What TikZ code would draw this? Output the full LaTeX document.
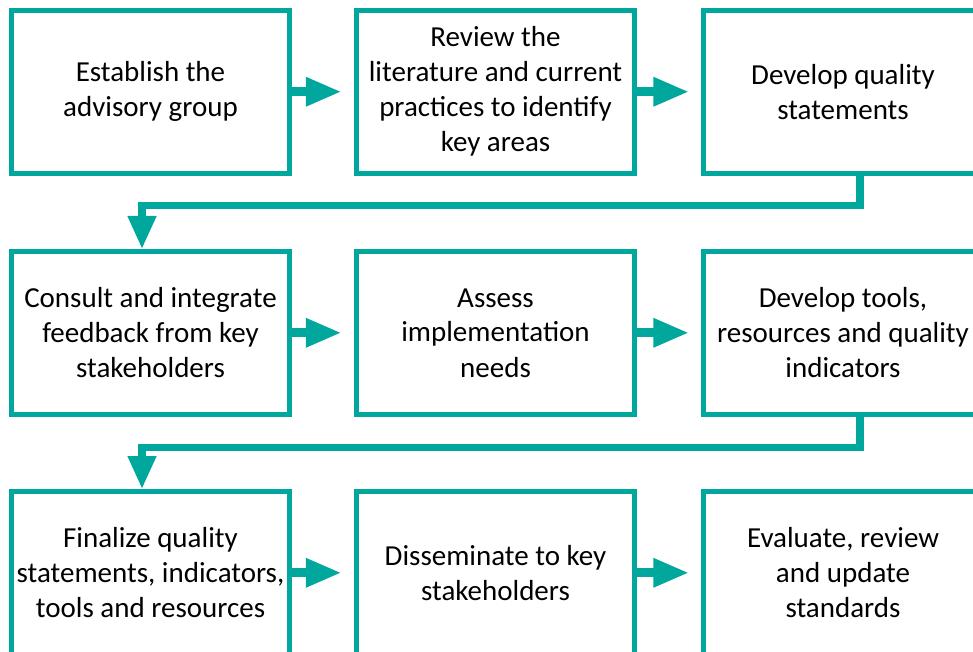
\documentclass[tikz,border=0pt]{standalone}
\usepackage{fontspec}
\setmainfont{Carlito}
\usetikzlibrary{arrows.meta}

\definecolor{tealline}{HTML}{00A79D}

\tikzset{
  stage/.style={draw=tealline, line width=2.5pt, fill=white, align=center,
    minimum width=139.25pt, minimum height=81.3pt, inner sep=0pt,
    font=\fontsize{14.5}{17.5}\selectfont},
  nextarrow/.style={draw=tealline, line width=4.5pt, shorten >=6pt,
    -{Triangle[length=18pt, width=13.5pt]}},
  turnarrow/.style={draw=tealline, line width=3.75pt,
    -{Triangle[length=16.5pt, width=13.5pt]}}
}

\begin{document}
\begin{tikzpicture}[x=0.5pt, y=-0.5pt]
            % Keep the cropped frame of the original
            \clip (0,0) rectangle (973,652);
            \fill[white] (0,0) rectangle (973,652);

            % First row of stages
            \node[stage] (b1) at (150.5,91.75) {Establish the\\advisory group};
            \node[stage] (b2) at (495.5,91.75) {Review the\\literature and current\\practices to identify\\key areas};
            \node[stage] (b3) at (843,91.75) {Develop quality\\statements};

            % Second row of stages
            \node[stage] (b4) at (150.5,332.8) {Consult and integrate\\feedback from key\\stakeholders};
            \node[stage] (b5) at (495.5,332.8) {Assess\\implementation\\needs};
            \node[stage] (b6) at (843,332.8) {Develop tools,\\resources and quality\\indicators};

            % Third row of stages
            \node[stage] (b7) at (150.5,572.8) {Finalize quality\\statements, indicators,\\tools and resources};
            \node[stage] (b8) at (495.5,572.8) {Disseminate to key\\stakeholders};
            \node[stage] (b9) at (843,572.8) {Evaluate, review\\and update\\standards};

            % Arrows along each row
            \draw[nextarrow] (b1) -- (b2);
            \draw[nextarrow] (b2) -- (b3);
            \draw[nextarrow] (b4) -- (b5);
            \draw[nextarrow] (b5) -- (b6);
            \draw[nextarrow] (b7) -- (b8);
            \draw[nextarrow] (b8) -- (b9);

            % Turn back to the start of the next row
            \draw[turnarrow] ([xshift=8.5pt]b3.south) -- ++(0,30) -| ([xshift=-4.25pt]b4.north);
            \draw[turnarrow] ([xshift=8.5pt]b6.south) -- ++(0,31) -| ([xshift=-4.25pt]b7.north);

            \end{tikzpicture}
\end{document}
